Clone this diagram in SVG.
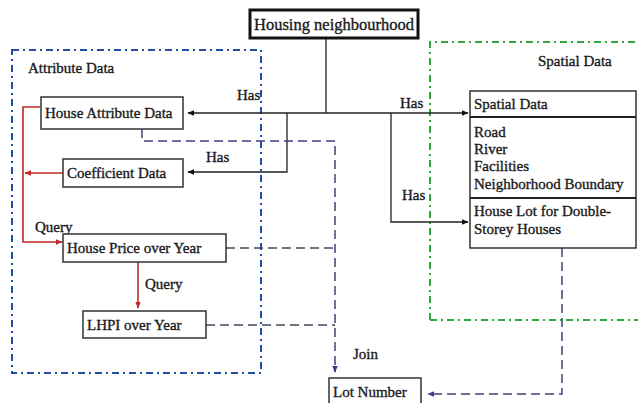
<svg xmlns="http://www.w3.org/2000/svg" width="638" height="403" viewBox="0 0 638 403">
<style>
text{font-family:"Liberation Serif","Times New Roman",serif;font-size:15px;fill:#1a1a1a;stroke:#1a1a1a;stroke-width:0.35}
.box{fill:#fff;stroke:#333;stroke-width:1.5}
.ln{fill:none;stroke:#222;stroke-width:1.3}
.red{fill:none;stroke:#c0282a;stroke-width:1.6}
.dsh{fill:none;stroke:#4a3d7c;stroke-width:1.5;stroke-dasharray:9,5}
.dshg{fill:none;stroke:#45475a;stroke-width:1.5;stroke-dasharray:9,5}
.grp{fill:none;stroke-width:2;stroke-dasharray:7,4,2,4}
</style>
<defs>
<marker id="ab" viewBox="0 0 10 10" refX="9" refY="5" markerWidth="7" markerHeight="7" orient="auto" markerUnits="userSpaceOnUse"><path d="M0,1 L10,5 L0,9 z" fill="#111"/></marker>
<marker id="ar" viewBox="0 0 10 10" refX="9" refY="5" markerWidth="7" markerHeight="7" orient="auto" markerUnits="userSpaceOnUse"><path d="M0,1 L10,5 L0,9 z" fill="#c0282a"/></marker>
<marker id="ap" viewBox="0 0 10 10" refX="9" refY="5" markerWidth="7" markerHeight="7" orient="auto" markerUnits="userSpaceOnUse"><path d="M0,1 L10,5 L0,9 z" fill="#3d3590"/></marker>
</defs>
<rect width="638" height="403" fill="#fff"/>

<g id="attribute-group">
<rect class="grp" x="12" y="50" width="249" height="323" stroke="#1f4fa6"/>
<text x="28" y="73">Attribute Data</text>
</g>
<g id="spatial-group">
<path class="grp" d="M430,320 V42 H640 M430,320 H640" stroke="#2ea83a"/>
<text x="538" y="66">Spatial Data</text>
</g>

<g id="connectors">
<path class="ln" d="M326,38 V113"/>
<path class="ln" d="M326,113 H188" marker-end="url(#ab)"/>
<path class="ln" d="M326,113 H468" marker-end="url(#ab)"/>
<path class="ln" d="M287,113 V172 H188" marker-end="url(#ab)"/>
<path class="ln" d="M391,113 V222 H468" marker-end="url(#ab)"/>
<path class="red" d="M40,107 H23 V242 H62" marker-end="url(#ar)"/>
<path class="red" d="M63,173 H25" marker-end="url(#ar)"/>
<path class="red" d="M138,262 V308" marker-end="url(#ar)"/>
<path class="dsh" d="M142,129 V141 H335 V372" marker-end="url(#ap)"/>
<path class="dshg" d="M226,248 H335"/>
<path class="dshg" d="M206,325 H335"/>
<path class="dsh" d="M562,248 V394 H428" marker-end="url(#ap)"/>
<text x="237" y="100">Has</text>
<text x="400" y="108">Has</text>
<text x="206" y="162">Has</text>
<text x="402" y="200">Has</text>
<text x="35" y="232">Query</text>
<text x="145" y="289">Query</text>
<text x="353" y="359">Join</text>
</g>

<g id="housing-neighbourhood">
<rect x="250" y="10" width="168" height="28" fill="#fff" stroke="#111" stroke-width="3"/>
<text x="334" y="30" text-anchor="middle" style="font-size:16.5px">Housing neighbourhood</text>
</g>
<g id="house-attribute-data">
<rect class="box" x="41" y="97" width="142" height="32"/>
<text x="45" y="118">House Attribute Data</text>
</g>
<g id="coefficient-data">
<rect class="box" x="63" y="159" width="120" height="28"/>
<text x="67" y="178">Coefficient Data</text>
</g>
<g id="house-price-over-year">
<rect class="box" x="63" y="234" width="163" height="28"/>
<text x="67" y="253">House Price over Year</text>
</g>
<g id="lhpi-over-year">
<rect class="box" x="83" y="311" width="123" height="27"/>
<text x="87" y="330">LHPI over Year</text>
</g>
<g id="spatial-data">
<rect class="box" x="470" y="91" width="166" height="157"/>
<path d="M470,117 H636 M470,198 H636" stroke="#222" stroke-width="2"/>
<text x="474" y="109">Spatial Data</text>
<text x="474" y="137">Road</text>
<text x="474" y="154">River</text>
<text x="474" y="171">Facilities</text>
<text x="474" y="189">Neighborhood Boundary</text>
<text x="474" y="216">House Lot for Double-</text>
<text x="474" y="234">Storey Houses</text>
</g>
<g id="lot-number">
<rect class="box" x="329" y="378" width="92" height="30"/>
<text x="333" y="397">Lot Number</text>
</g>
</svg>
